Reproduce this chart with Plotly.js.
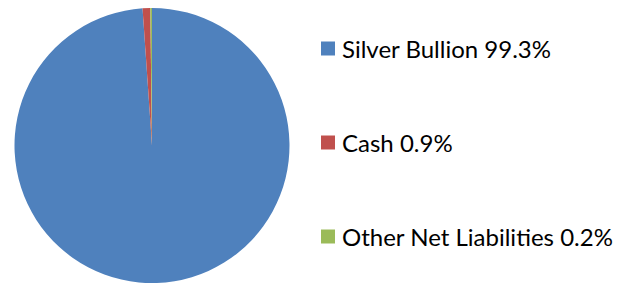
<!DOCTYPE html>
<html><head><meta charset="utf-8">
<script src="https://cdn.plot.ly/plotly-3.0.1.min.js"></script>
<style>html,body{margin:0;padding:0;background:#fff}#chart{width:631px;height:283px}</style>
</head><body><div id="chart"></div>
<script>
var labels = ["Silver Bullion", "Cash", "Other Net Liabilities"];
var values = [99.3, 0.9, 0.2];
var colors = ["#4F81BD", "#C0504D", "#9BBB59"];

var W = 631, H = 283;
var legendY = [48.5, 142.5, 236.5];
var annotations = [], shapes = [];
for (var i = 0; i < labels.length; i++) {
  var yc = 1 - legendY[i] / H;
  shapes.push({type: "rect", xref: "paper", yref: "paper",
    x0: 321 / W, x1: 335 / W, y0: yc - 7 / H, y1: yc + 7 / H,
    fillcolor: colors[i], line: {width: 0}});
  annotations.push({xref: "paper", yref: "paper", x: 340 / W, y: yc,
    xanchor: "left", yanchor: "middle", showarrow: false,
    text: labels[i] + " " + values[i].toFixed(1) + "%",
    font: {family: "Lato, sans-serif", size: 24, color: "#000"}});
}

var data = [{
  type: "pie", labels: labels, values: values, sort: false,
  direction: "clockwise", rotation: 0, textinfo: "none", hoverinfo: "none",
  marker: {colors: colors, line: {width: 0}},
  domain: {x: [14 / W, 290 / W], y: [0, 1 - 8 / H]}
}];
Plotly.newPlot("chart", data, {
  width: W, height: H, margin: {l: 0, r: 0, t: 0, b: 0},
  showlegend: false, paper_bgcolor: "#fff",
  annotations: annotations, shapes: shapes
}, {staticPlot: true});
</script></body></html>
